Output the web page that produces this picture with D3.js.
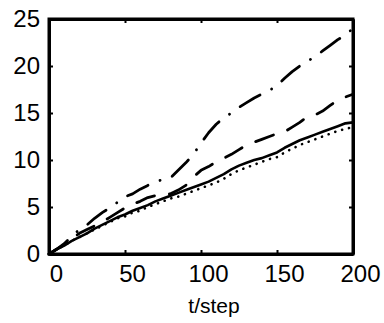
<!DOCTYPE html>
<html>
<head>
<meta charset="utf-8">
<script src="https://cdnjs.cloudflare.com/ajax/libs/d3/7.8.5/d3.min.js"></script>
<style>
  body { margin: 0; background: #fff; }
  text { font-family: "Liberation Sans", Arial, sans-serif; fill: #000; }
</style>
</head>
<body>
<svg width="384" height="323"></svg>
<script>
// time steps, every 5
var steps = d3.range(0, 201, 5);

var dashDot = [0, 0.5, 1.1, 1.9, 2.6, 3.1, 3.8, 4.4, 4.9, 5.5, 6.1, 6.4, 6.9, 7.3, 7.7, 7.9, 8.1, 8.9, 9.7, 10.6,
  11.8, 12.9, 13.8, 14.5, 15.0, 15.6, 16.1, 16.6, 17.0, 17.4, 17.9, 18.7, 19.4, 20.0, 20.5, 21.0, 21.6, 22.2, 22.8, 23.3, 24.0];
var dashed = [0, 0.5, 1.0, 1.6, 2.2, 2.6, 3.0, 3.4, 3.9, 4.4, 4.9, 5.3, 5.6, 6.0, 6.2, 6.3, 6.4, 6.8, 7.3, 8.2,
  8.9, 9.3, 9.8, 10.2, 10.6, 11.1, 11.6, 11.9, 12.2, 12.5, 12.8, 13.0, 13.5, 14.0, 14.6, 14.8, 15.2, 15.8, 16.4, 16.7, 17.0];
var solid = [0, 0.5, 0.9, 1.4, 1.8, 2.2, 2.7, 3.1, 3.5, 3.9, 4.2, 4.6, 4.9, 5.2, 5.6, 5.9, 6.2, 6.5, 6.8, 7.1,
  7.4, 7.7, 8.1, 8.5, 9.0, 9.4, 9.7, 10.0, 10.2, 10.5, 10.8, 11.3, 11.7, 12.1, 12.4, 12.7, 13.0, 13.3, 13.6, 13.9, 14.0];
var dotted = [0, 0.5, 0.9, 1.4, 1.8, 2.2, 2.6, 3.0, 3.4, 3.8, 4.0, 4.4, 4.6, 5.0, 5.3, 5.6, 5.9, 6.1, 6.4, 6.7,
  7.0, 7.3, 7.6, 8.0, 8.5, 8.9, 9.2, 9.5, 9.8, 10.1, 10.3, 10.8, 11.2, 11.6, 11.9, 12.2, 12.5, 12.8, 13.1, 13.3, 13.5];

var xTicks = [0, 50, 100, 150, 200];
var yTicks = [0, 5, 10, 15, 20, 25];
var xLabel = "t/step";

var svg = d3.select("svg");
var x = d3.scaleLinear().domain([0, 200]).range([49, 353]);
var y = d3.scaleLinear().domain([0, 25]).range([254, 19]);

var series = [
  {v: solid, dash: null, w: 2.6},
  {v: dotted, dash: "0.1,7", w: 2.6},
  {v: dashed, dash: "19,15", w: 2.8},
  {v: dashDot, dash: "23,13,0.1,13", w: 2.8}
];

var line = d3.line()
  .x(function(d){ return x(d[0]); })
  .y(function(d){ return y(d[1]); });

series.forEach(function(s){
  svg.append("path")
    .datum(steps.map(function(t, i){ return [t, s.v[i]]; }))
    .attr("d", line)
    .attr("fill", "none")
    .attr("stroke", "#000")
    .attr("stroke-width", s.w)
    .attr("stroke-linecap", "round")
    .attr("stroke-linejoin", "round")
    .attr("stroke-dasharray", s.dash);
});

// axes, ticks inward on all four sides
var axBottom = svg.append("g").attr("transform", "translate(0,254)")
  .call(d3.axisBottom(x).tickValues(xTicks).tickSizeInner(-4).tickSizeOuter(0).tickPadding(11));
var axTop = svg.append("g").attr("transform", "translate(0,19)")
  .call(d3.axisTop(x).tickValues(xTicks).tickSizeInner(-4).tickSizeOuter(0).tickFormat(""));
var axLeft = svg.append("g").attr("transform", "translate(49,0)")
  .call(d3.axisLeft(y).tickValues(yTicks).tickSizeInner(-4).tickSizeOuter(0).tickPadding(9));
var axRight = svg.append("g").attr("transform", "translate(353,0)")
  .call(d3.axisRight(y).tickValues(yTicks).tickSizeInner(-4).tickSizeOuter(0).tickFormat(""));

[axBottom, axTop, axLeft, axRight].forEach(function(g){
  g.select(".domain").attr("stroke", "#000").attr("stroke-width", 3);
  g.selectAll(".tick line").attr("stroke", "#000").attr("stroke-width", 2);
});
// square the box corners
svg.append("rect").attr("x", 49).attr("y", 19).attr("width", 304).attr("height", 235)
  .attr("fill", "none").attr("stroke", "#000").attr("stroke-width", 3);

axBottom.selectAll(".tick text").attr("font-size", 24).attr("dx", 7)
  .style("font-family", "'Liberation Sans', Arial, sans-serif");
axLeft.selectAll(".tick text").attr("font-size", 24)
  .style("font-family", "'Liberation Sans', Arial, sans-serif");

svg.append("text")
  .attr("x", 214).attr("y", 313)
  .attr("text-anchor", "middle")
  .attr("font-size", 21)
  .text(xLabel);
</script>
</body>
</html>
